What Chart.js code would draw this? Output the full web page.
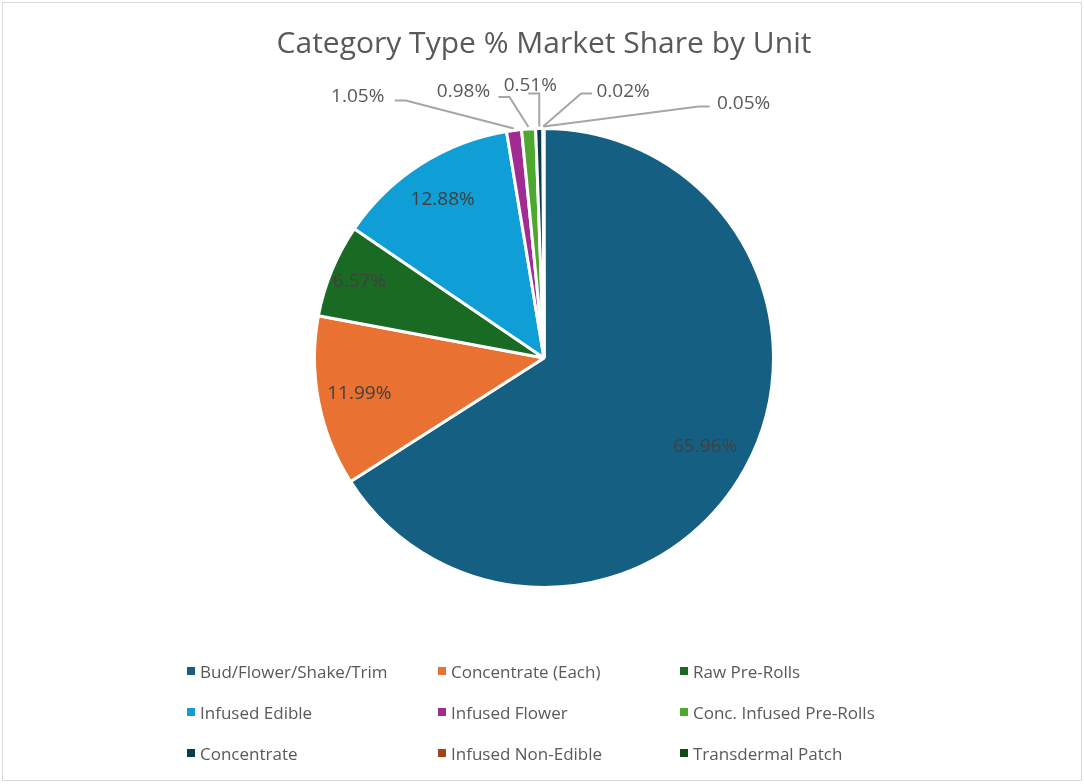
<!DOCTYPE html>
<html>
<head>
<meta charset="utf-8">
<script src="https://cdn.jsdelivr.net/npm/chart.js@4.4.1/dist/chart.umd.min.js"></script>
<style>
  body { margin: 0; background: #fff; font-family: "Open Sans", "Noto Sans", sans-serif; }
  #wrap { position: relative; width: 1084px; height: 784px; }
  #frame { position: absolute; left: 2px; top: 2px; width: 1078px; height: 777px; border: 1px solid #d9d9d9; box-sizing: content-box; pointer-events: none; }
  #titulo { position: absolute; left: 0; width: 1088px; top: 21px; text-align: center; font-size: 30px; color: #595959; }
  #legenda { position: absolute; left: 187px; top: 658px; display: grid; grid-template-columns: 251px 242px 260px; row-gap: 15px; font-size: 17px; color: #595959; }
  #legenda div { display: flex; align-items: center; height: 26px; white-space: nowrap; }
  #legenda span.box { width: 8px; height: 8px; margin-right: 5px; display: inline-block; }
</style>
</head>
<body>
<div id="wrap">
  <canvas id="grafico" width="1084" height="784"></canvas>
  <div id="titulo">Category Type % Market Share by Unit</div>
  <div id="legenda"></div>
  <div id="frame"></div>
</div>
<script>
const categorias = ["Bud/Flower/Shake/Trim", "Concentrate (Each)", "Raw Pre-Rolls", "Infused Edible",
  "Infused Flower", "Conc. Infused Pre-Rolls", "Concentrate", "Infused Non-Edible", "Transdermal Patch"];
const valores = [65.96, 11.99, 6.57, 12.88, 1.05, 0.98, 0.51, 0.02, 0.05];
const cores = ["#156082", "#E97132", "#196B24", "#0F9ED5", "#A02B93", "#4EA72E", "#0D3A4E", "#A0451A", "#0F4A18"];

// posicao dos rotulos externos (fatias pequenas): deslocamento do texto a partir da borda da fatia
const rotulosFora = {
  4: { dx: -156, dy: -32, lx: -108, ly: -28 },
  5: { dx: -65, dy: -35, lx: -19, ly: -30 },
  6: { dx: -9, dy: -41, lx: 0, ly: -33 },
  7: { dx: 80, dy: -35, lx: 38, ly: -33 },
  8: { dx: 200, dy: -23, lx: 155, ly: -20 }
};
// distancia do rotulo interno em relacao ao raio
const fatorRaio = { 0: 0.8, 1: 0.82, 2: 0.87, 3: 0.82 };

// legenda em grade, 3 colunas
const legenda = document.getElementById("legenda");
categorias.forEach((nome, i) => {
  const d = document.createElement("div");
  d.innerHTML = `<span class="box" style="background:${cores[i]}"></span>${nome}`;
  legenda.appendChild(d);
});

const rotulos = {
  id: "rotulos",
  afterDatasetsDraw(chart) {
    const ctx = chart.ctx;
    const meta = chart.getDatasetMeta(0);
    ctx.save();
    ctx.font = '19px "Open Sans", "Noto Sans", sans-serif';
    ctx.textAlign = "center";
    ctx.textBaseline = "middle";
    meta.data.forEach((arc, i) => {
      const { x, y, startAngle, endAngle, outerRadius } = arc.getProps(["x", "y", "startAngle", "endAngle", "outerRadius"], true);
      const meio = (startAngle + endAngle) / 2;
      const texto = valores[i].toFixed(2) + "%";
      if (valores[i] > 5) {
        const r = outerRadius * fatorRaio[i];
        ctx.fillStyle = "#404040";
        ctx.fillText(texto, x + Math.cos(meio) * r, y + Math.sin(meio) * r);
      } else {
        const o = rotulosFora[i];
        const bx = x + Math.cos(meio) * (outerRadius + 2);
        const by = y + Math.sin(meio) * (outerRadius + 2);
        ctx.strokeStyle = "#a6a6a6";
        ctx.lineWidth = 2;
        ctx.beginPath();
        ctx.moveTo(bx, by);
        ctx.lineTo(bx + o.lx, by + o.ly);
        const lado = o.dx < 0 ? -1 : (o.dx > 0 ? 1 : 0);
        if (lado !== 0) ctx.lineTo(bx + o.lx + lado * 11, by + o.ly);
        ctx.stroke();
        ctx.fillStyle = "#595959";
        ctx.fillText(texto, bx + o.dx, by + o.dy);
      }
    });
    ctx.restore();
  }
};

const ctx = document.getElementById("grafico").getContext("2d");
window.graficoPizza = new Chart(ctx, {
  type: "pie",
  data: {
    labels: categorias,
    datasets: [{
      data: valores,
      backgroundColor: cores,
      borderColor: "#ffffff",
      borderWidth: 3
    }]
  },
  options: {
    responsive: false,
    animation: false,
    layout: { padding: { top: 127, bottom: 195, left: 4, right: 0 } },
    plugins: {
      legend: { display: false },
      title: { display: false },
      tooltip: { enabled: false }
    }
  },
  plugins: [rotulos]
});
</script>
</body>
</html>
